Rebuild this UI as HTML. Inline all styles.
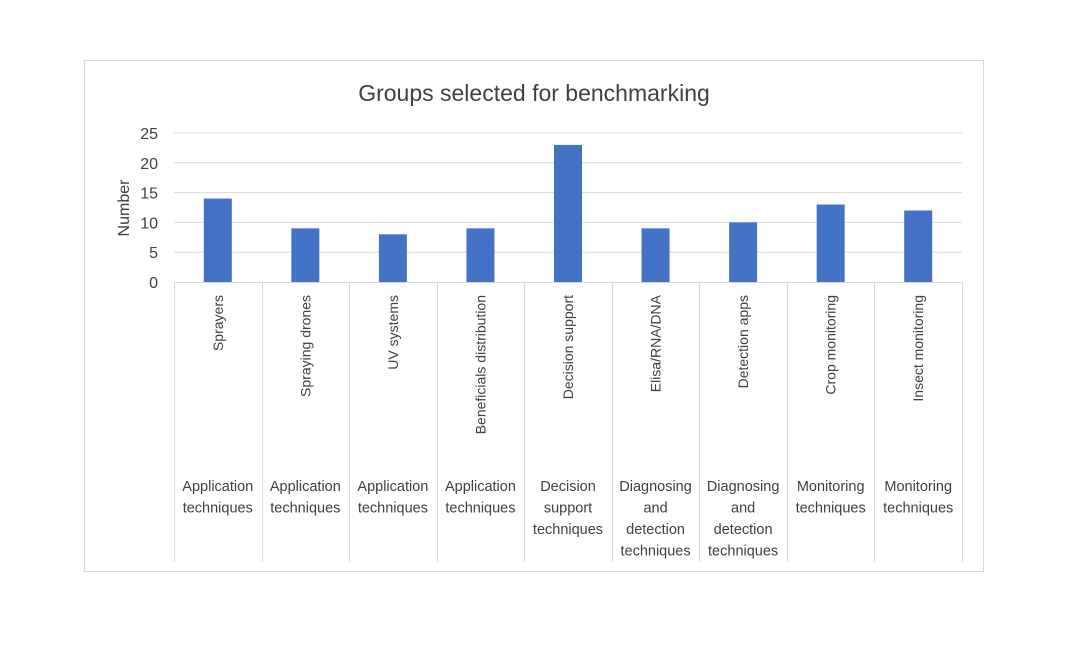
<!DOCTYPE html>
<html><head><meta charset="utf-8"><style>
body{margin:0;background:#fff;width:1068px;height:649px;overflow:hidden;font-family:"Liberation Sans",sans-serif}
</style></head><body>
<svg id="c" width="1068" height="649" xmlns="http://www.w3.org/2000/svg" font-family="Liberation Sans, sans-serif">
<rect x="84.5" y="60.5" width="899" height="511" fill="#fff" stroke="#d9d9d9"/>
<text x="534" y="101" font-size="23" fill="#404040" text-anchor="middle">Groups selected for benchmarking</text>
<text transform="translate(129,208) rotate(-90)" font-size="16" fill="#404040" text-anchor="middle">Number</text>
</svg>
<script>
const categories=["Sprayers","Spraying drones","UV systems","Beneficials distribution","Decision support","Elisa/RNA/DNA","Detection apps","Crop monitoring","Insect monitoring"];
const groups=[["Application","techniques"],["Application","techniques"],["Application","techniques"],["Application","techniques"],["Decision","support","techniques"],["Diagnosing","and","detection","techniques"],["Diagnosing","and","detection","techniques"],["Monitoring","techniques"],["Monitoring","techniques"]];
const values=[14,9,8,9,23,9,10,13,12];
const yTicks=[0,5,10,15,20,25];
const svg=document.getElementById('c');const NS='http://www.w3.org/2000/svg';
const x0=174,x1=962,yBase=282,yTop=133,yMax=25;
const y=v=>yBase-(v/yMax)*(yBase-yTop);
const bw=(x1-x0)/categories.length;
function mk(t,a,txt){const e=document.createElementNS(NS,t);for(const k in a)e.setAttribute(k,a[k]);if(txt!=null)e.textContent=txt;svg.appendChild(e);return e;}
yTicks.forEach(t=>{
 if(t>0){const g=mk('line',{x1:x0,x2:x1,y1:y(t),y2:y(t),stroke:'#d9d9d9','stroke-width':1});
 
 }
 const l=mk('text',{x:158,y:y(t)+6,'font-size':16,fill:'#404040','text-anchor':'end'},t);
 
 
});
const ax=mk('line',{x1:x0,x2:x1,y1:yBase+0.5,y2:yBase+0.5,stroke:'#d9d9d9'});


for(let i=0;i<=categories.length;i++){
 const xx=Math.round(x0+i*bw)+0.5;
 const d=mk('line',{x1:xx,x2:xx,y1:yBase,y2:562,stroke:'#d9d9d9'});
 
 
}
categories.forEach((c,i)=>{
 const cx=x0+(i+0.5)*bw;
 const b=mk('rect',{x:cx-14,y:y(values[i]),width:28,height:yBase-y(values[i]),fill:'#4472c4'});
 
 
 const t=mk('text',{transform:`translate(${cx+5},295) rotate(-90)`,'font-size':14,fill:'#404040','text-anchor':'end'},c);
 
 
 groups[i].forEach((w,j)=>{
  const g=mk('text',{x:cx,y:491+j*21.5,'font-size':14.5,fill:'#404040','text-anchor':'middle'},w);
  
  
 });
});
</script>
</body></html>
